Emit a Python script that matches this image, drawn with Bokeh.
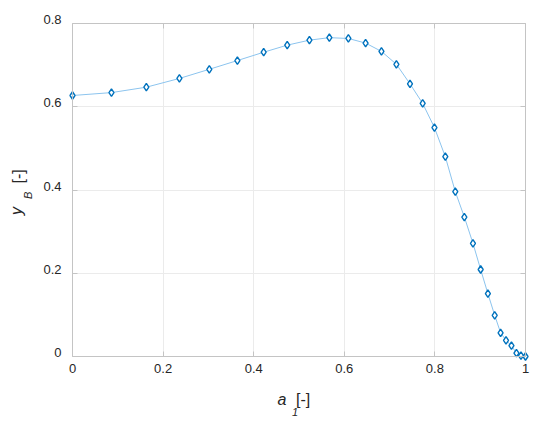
import math
from bokeh.plotting import figure
from bokeh.models import (Range1d, FixedTicker, LinearAxis, Label,
                          CustomJSTickFormatter)
from bokeh.embed import file_html
from bokeh.resources import INLINE

# data
a1 = [0.000, 0.086, 0.163, 0.236, 0.302, 0.364, 0.422, 0.474, 0.523, 0.567,
      0.609, 0.647, 0.682, 0.715, 0.745, 0.773, 0.799, 0.823, 0.845, 0.865,
      0.884, 0.901, 0.917, 0.932, 0.945, 0.957, 0.969, 0.980, 0.990, 1.000]
yB = [0.627, 0.634, 0.647, 0.668, 0.690, 0.711, 0.731, 0.748, 0.760, 0.766,
      0.764, 0.753, 0.733, 0.702, 0.655, 0.608, 0.550, 0.480, 0.396, 0.335,
      0.272, 0.209, 0.151, 0.099, 0.057, 0.039, 0.026, 0.008, 0.002, 0.000]
x_ticks = [0, 0.2, 0.4, 0.6, 0.8, 1.0]
y_ticks = [0, 0.2, 0.4, 0.6, 0.8]
x_lim = (0, 1)
y_lim = (0, 0.8)

# layout (pixels): canvas size and the plot box inside it
W, H = 548, 418
L, R, T, B = 72, 525, 23, 356
YLAB_RAISE = 4  # y tick labels sit slightly above their ticks
xpu = (R - L) / (x_lim[1] - x_lim[0])
ypu = (B - T) / (y_lim[1] - y_lim[0])

AX = "#c4c4c4"
GRID = "#ebebeb"
TXT = "#262626"
FONT = "Liberation Sans"

y0 = y_lim[0] - (H - B) / ypu
y1 = y_lim[0] + B / ypu
p = figure(width=W, height=H, output_backend="svg", toolbar_location=None,
           x_axis_type=None, y_axis_type=None,
           x_range=Range1d(x_lim[0] - L / xpu, x_lim[0] + (W - L) / xpu),
           y_range=Range1d(y0, y1),
           min_border=0)
p.extra_y_ranges = {"ylab": Range1d(y0 - YLAB_RAISE / ypu, y1 - YLAB_RAISE / ypu)}
p.min_border_left = p.min_border_right = p.min_border_top = p.min_border_bottom = 0
p.background_fill_color = "white"
p.border_fill_color = "white"
p.outline_line_color = None
p.grid.visible = False

fmt = CustomJSTickFormatter(code="return Number(tick.toFixed(2)).toString();")

def axis(side, loc, ticks, bounds, labels=False, tick_in=5, color=AX,
         line=True, level="guide", ticks_on=True, **kw):
    ax = LinearAxis(ticker=FixedTicker(ticks=ticks), fixed_location=loc,
                    bounds=bounds, level=level, **kw)
    ax.axis_line_color = color if line else None
    ax.major_tick_line_color = color if ticks_on else None
    ax.major_tick_in = tick_in
    ax.major_tick_out = 0
    ax.minor_tick_line_color = None
    ax.formatter = fmt
    if labels:
        ax.major_label_text_font = FONT
        ax.major_label_text_font_size = "13px"
        ax.major_label_text_color = TXT
    else:
        ax.major_label_text_font_size = "0px"
        ax.major_label_text_alpha = 0
        ax.major_label_standoff = 0
    p.add_layout(ax, side)
    return ax

# grid lines (long inward ticks, drawn under the data)
axis("below", y_lim[0], x_ticks, x_lim, tick_in=B - T, color=GRID,
     line=False, level="underlay")
axis("left", x_lim[0], y_ticks, y_lim, tick_in=R - L, color=GRID,
     line=False, level="underlay")

# box with inward ticks
xa = axis("below", y_lim[0], x_ticks, x_lim, labels=True)
xa.major_label_standoff = 7
axis("left", x_lim[0], y_ticks, y_lim)
ya = axis("left", x_lim[0], y_ticks, y_lim, labels=True, line=False,
          ticks_on=False, y_range_name="ylab")
ya.major_label_standoff = 11
axis("above", y_lim[1], x_ticks, x_lim)
axis("right", x_lim[1], y_ticks, y_lim)

p.line(a1, yB, line_color="#8cc4ee", line_width=1)
p.scatter(a1, yB, marker="diamond", size=7.5, line_color="#0072bd",
          line_width=1.4, fill_color="white")

# axis titles (a_1 [-] and y_B [-]) anchored at the data origin + pixel offsets
def lab(text, dx, dy, size, italic=False, angle=0.0):
    p.add_layout(Label(x=x_lim[0], y=y_lim[0], x_offset=dx, y_offset=dy,
                       text=text, text_font=FONT, text_font_size=size,
                       text_font_style="italic" if italic else "normal",
                       text_color=TXT, text_align="left",
                       text_baseline="alphabetic", angle=angle))

lab("a", 205, -42.5, "16px", italic=True)
lab("1", 219.5, -55, "11px", italic=True)
lab("[-]", 223.5, -43, "16px")
r = math.pi / 2
lab("y", -56.5, 141.5, "16px", italic=True, angle=r)
lab("B", -45, 157.5, "11px", italic=True, angle=r)
lab("[-]", -54, 173, "16px", angle=r)

open("out.html", "w").write(file_html(p, INLINE))
